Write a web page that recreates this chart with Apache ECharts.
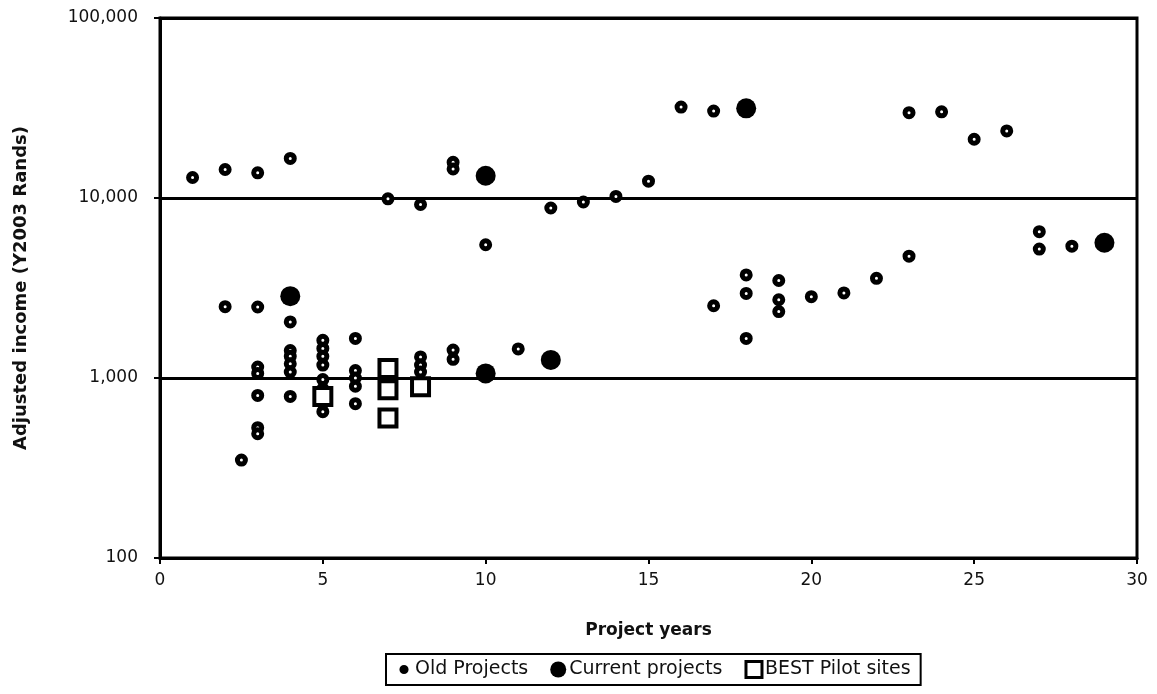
<!DOCTYPE html>
<html>
<head>
<meta charset="utf-8">
<script src="https://cdn.jsdelivr.net/npm/echarts@6/dist/echarts.min.js"></script>
<style>
  html, body { margin: 0; padding: 0; background: #fff; }
  #chart { width: 1157px; height: 694px; }
</style>
</head>
<body>
<div id="chart"></div>
<script>
// [project years, adjusted income]
const oldProjects = [
  [1, 13000], [2, 14400], [3, 13800], [4, 16600], [7, 9900], [8, 9200],
  [9, 15800], [9, 14500], [10, 5500],
  [2, 2490], [3, 2480], [4, 2050], [4, 1420], [4, 1320], [4, 1200], [4, 1080], [4, 790],
  [3, 1150], [3, 1060], [3, 800], [3, 530], [3, 490], [2.5, 350],
  [5, 1620], [5, 1460], [5, 1320], [5, 1180], [5, 980], [5, 870], [5, 730], [5, 650],
  [6, 1660], [6, 1100], [6, 1000], [6, 900], [6, 720],
  [8, 1310], [8, 1180], [8, 1080], [9, 1430], [9, 1270], [11, 1450],
  [12, 8800], [13, 9500], [14, 10200], [15, 12400], [16, 32000], [17, 30400],
  [23, 29800], [24, 30100], [25, 21200], [26, 23600],
  [27, 6500], [27, 5200], [28, 5400], [23, 4750], [22, 3580], [21, 2970], [20, 2830],
  [19, 3480], [19, 2720], [19, 2340], [18, 3740], [18, 2950], [18, 1660], [17, 2520]
];
const currentProjects = [[4, 2850], [10, 13300], [10, 1060], [12, 1260], [18, 31500], [29, 5640]];
const pilotSites = [[5, 790], [7, 1130], [7, 860], [7, 600], [8, 895]];

const seriesNames = ['Old Projects', 'Current projects', 'BEST Pilot sites'];

const chart = echarts.init(document.getElementById('chart'));

const axisFont = { fontFamily: 'DejaVu Sans', fontSize: 17, color: '#111' };

chart.setOption({
  animation: false,
  grid: {
    left: 160, right: 20, top: 18, bottom: 136,
    show: true, borderColor: '#000', borderWidth: 3, backgroundColor: '#fff'
  },
  xAxis: {
    type: 'value', min: 0, max: 30, interval: 5,
    name: 'Project years', nameLocation: 'middle', nameGap: 64,
    nameTextStyle: { fontFamily: 'DejaVu Sans', fontSize: 17, fontWeight: 'bold', color: '#111' },
    axisLine: { lineStyle: { color: '#000', width: 3 } },
    axisTick: { show: true, length: 6, lineStyle: { color: '#000', width: 2 } },
    axisLabel: Object.assign({ margin: 14 }, axisFont),
    splitLine: { show: false }
  },
  yAxis: {
    type: 'log', logBase: 10, min: 100, max: 100000,
    name: 'Adjusted income (Y2003 Rands)', nameLocation: 'middle', nameGap: 130,
    nameTextStyle: { fontFamily: 'DejaVu Sans', fontSize: 18, fontWeight: 'bold', color: '#111' },
    axisLine: { lineStyle: { color: '#000', width: 3 } },
    axisTick: { show: true, length: 6, lineStyle: { color: '#000', width: 2 } },
    axisLabel: Object.assign({
      margin: 22,
      formatter: v => Math.round(v).toLocaleString('en-US')
    }, axisFont),
    splitLine: { show: true, lineStyle: { color: '#000', width: 3 } },
    minorTick: { show: false }
  },
  legend: {
    bottom: 9, left: 386,
    data: [
      { name: seriesNames[0], icon: 'path://M0,0M14,14M7,3A4,4,0,1,1,7,11A4,4,0,1,1,7,3Z', itemStyle: { color: '#000', borderWidth: 0 } },
      { name: seriesNames[1], icon: 'circle' },
      { name: seriesNames[2], icon: 'rect', itemStyle: { borderWidth: 3 } }
    ],
    itemGap: 22, itemWidth: 16, itemHeight: 16,
    borderColor: '#000', borderWidth: 2, padding: [6, 10],
    textStyle: { fontFamily: 'DejaVu Sans', fontSize: 19, color: '#111', padding: [0, 0, 0, -2] }
  },
  series: [
    {
      name: seriesNames[0], type: 'scatter', data: oldProjects,
      symbol: 'circle', symbolSize: 8,
      itemStyle: { color: '#fff', borderColor: '#000', borderWidth: 5, opacity: 1 }
    },
    {
      name: seriesNames[1], type: 'scatter', data: currentProjects,
      symbol: 'circle', symbolSize: 20,
      itemStyle: { color: '#000', opacity: 1 }
    },
    {
      name: seriesNames[2], type: 'scatter', data: pilotSites,
      symbol: 'rect', symbolSize: 17,
      itemStyle: { color: '#fff', borderColor: '#000', borderWidth: 4, opacity: 1 }
    }
  ]
});
</script>
</body>
</html>
